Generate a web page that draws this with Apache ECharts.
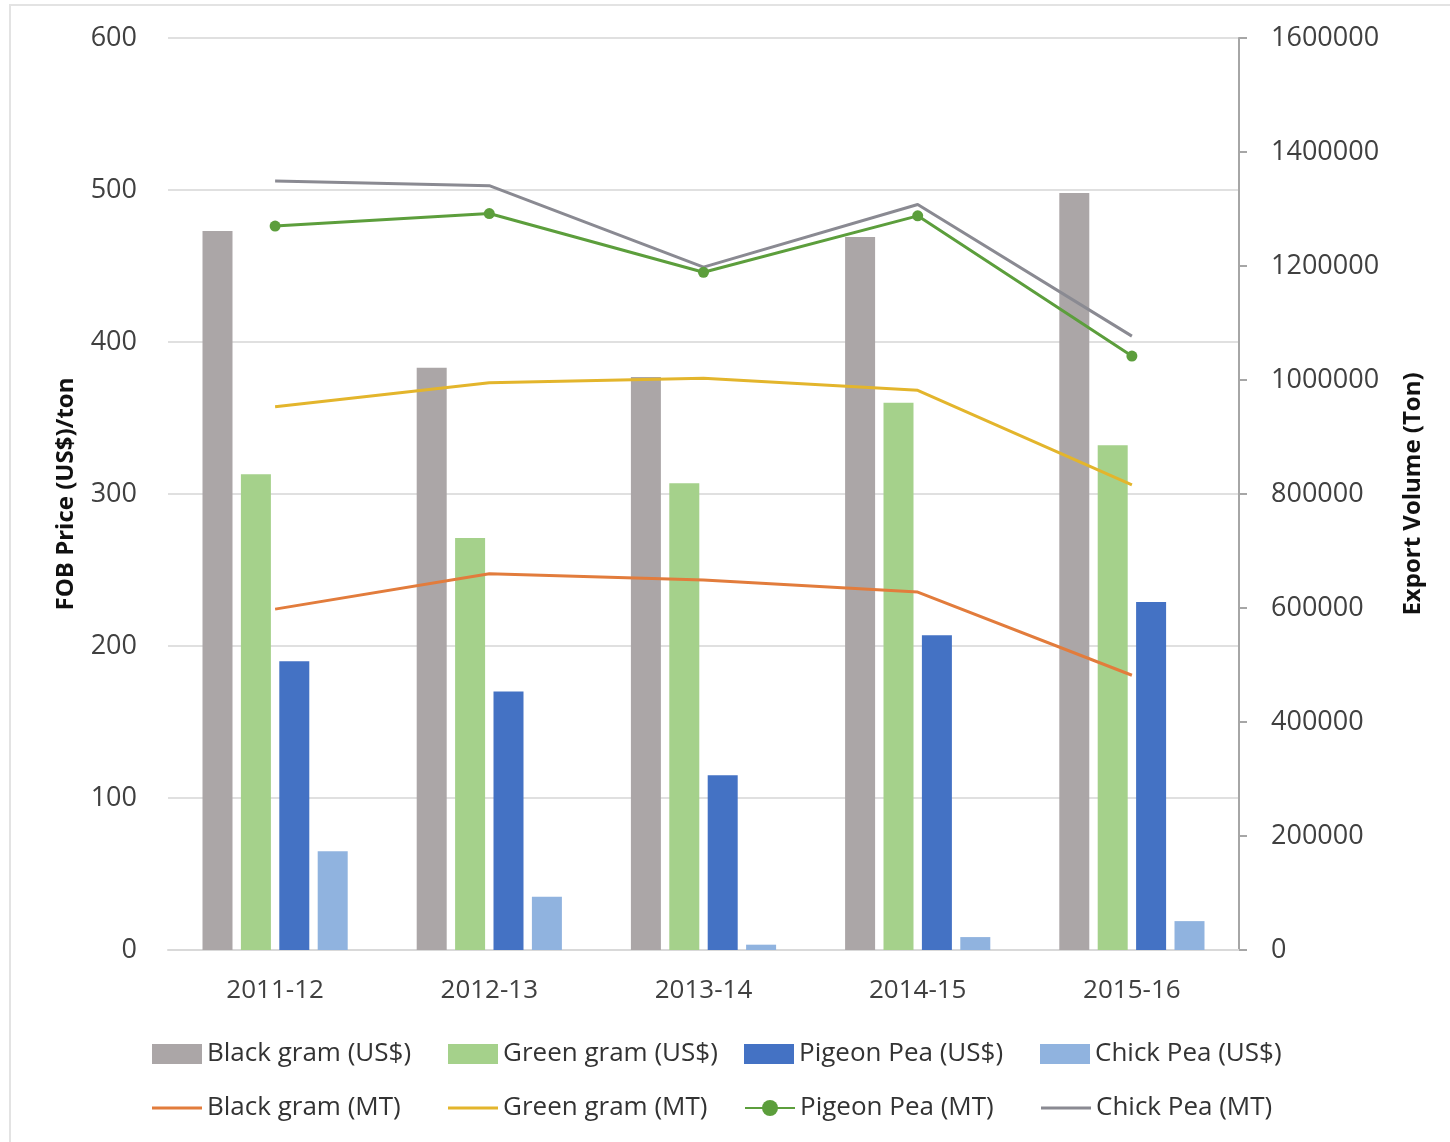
<!DOCTYPE html>
<html>
<head>
<meta charset="utf-8">
<script src="https://cdn.jsdelivr.net/npm/echarts@6/dist/echarts.min.js"></script>
<style>
html,body{margin:0;padding:0;background:#fff;}
#chart{width:1450px;height:1142px;}
</style>
</head>
<body>
<div id="chart"></div>
<script>
// ---- data ----
const categories = ['2011-12', '2012-13', '2013-14', '2014-15', '2015-16'];
const blackGramUSD = [473, 383, 377, 469, 498];
const greenGramUSD = [313, 271, 307, 360, 332];
const pigeonPeaUSD = [190, 170, 115, 207, 229];
const chickPeaUSD = [65, 35, 3.5, 8.5, 19];
const blackGramMT = [598000, 660000, 649000, 628000, 482000];
const greenGramMT = [953000, 995000, 1003000, 982000, 816000];
const pigeonPeaMT = [1270000, 1292000, 1189000, 1288000, 1042000];
const chickPeaMT = [1349000, 1341000, 1198000, 1308000, 1077000];
const leftTitle = 'FOB Price (US$)/ton';
const rightTitle = 'Export Volume (Ton)';

const FONT = '"Open Sans", "Liberation Sans", sans-serif';
const LINE_ICON = 'path://M0,0 L50,0 L50,3 L0,3 Z';
const chart = echarts.init(document.getElementById('chart'));

const barSeries = (name, data, color) => ({
  name, type: 'bar', yAxisIndex: 0, data,
  barWidth: 30, barGap: '28%',
  itemStyle: { color }
});
const lineSeries = (name, data, color, marker) => ({
  name, type: 'line', yAxisIndex: 1, data, z: 5,
  symbol: marker ? 'circle' : 'none',
  symbolSize: 11,
  showSymbol: !!marker,
  lineStyle: { color, width: 3 },
  itemStyle: { color }
});

const legendText = { fontFamily: FONT, fontSize: 26, color: '#333', width: 241, lineHeight: 28 };

chart.setOption({
  animation: false,
  backgroundColor: '#fff',
  graphic: [{
    type: 'rect', shape: { x: 10, y: 5, width: 1460, height: 1160 },
    style: { fill: 'none', stroke: '#e3e3e3', lineWidth: 2 }, silent: true, z: -1
  }],
  grid: { left: 168, right: 211, top: 38, bottom: 192 },
  legend: [{
    left: 152, top: 1040, padding: 0, itemWidth: 50, itemHeight: 20, itemGap: 0,
    symbolKeepAspect: true,
    textStyle: legendText,
    data: [
      { name: 'Black gram (US$)', icon: 'rect' },
      { name: 'Green gram (US$)', icon: 'rect' },
      { name: 'Pigeon Pea (US$)', icon: 'rect' },
      { name: 'Chick Pea (US$)', icon: 'rect' }
    ]
  }, {
    left: 152, top: 1094, padding: 0, itemWidth: 50, itemHeight: 20, itemGap: 0,
    symbolKeepAspect: true,
    textStyle: legendText,
    data: [
      { name: 'Black gram (MT)', icon: LINE_ICON },
      { name: 'Green gram (MT)', icon: LINE_ICON },
      { name: 'Pigeon Pea (MT)' },
      { name: 'Chick Pea (MT)', icon: LINE_ICON }
    ]
  }],
  xAxis: {
    type: 'category', data: categories, boundaryGap: true,
    axisLine: { lineStyle: { color: '#d9d9d9', width: 2 } },
    axisTick: { show: false },
    axisLabel: { fontFamily: FONT, fontSize: 26, color: '#404040', margin: 28 }
  },
  yAxis: [{
    type: 'value', min: 0, max: 600, interval: 100,
    name: leftTitle, nameLocation: 'middle', nameRotate: 90, nameGap: 90,
    nameTextStyle: { fontFamily: FONT, fontSize: 24, fontWeight: 'bold', color: '#111' },
    axisLine: { show: false }, axisTick: { show: false },
    axisLabel: { fontFamily: FONT, fontSize: 27, color: '#404040', margin: 31 },
    splitLine: { lineStyle: { color: '#e0e0e0', width: 2 } }
  }, {
    type: 'value', min: 0, max: 1600000, interval: 200000, position: 'right',
    name: rightTitle, nameLocation: 'middle', nameRotate: 90, nameGap: 162,
    nameTextStyle: { fontFamily: FONT, fontSize: 24, fontWeight: 'bold', color: '#111' },
    axisLine: { show: true, lineStyle: { color: '#a6a6a6', width: 2 } },
    axisTick: { show: true, length: 8, lineStyle: { color: '#a6a6a6', width: 2 } },
    axisLabel: { fontFamily: FONT, fontSize: 27, color: '#404040', margin: 32,
      formatter: v => String(v) },
    splitLine: { show: false }
  }],
  series: [
    barSeries('Black gram (US$)', blackGramUSD, '#aba6a7'),
    barSeries('Green gram (US$)', greenGramUSD, '#a5d18b'),
    barSeries('Pigeon Pea (US$)', pigeonPeaUSD, '#4472c4'),
    barSeries('Chick Pea (US$)', chickPeaUSD, '#90b3df'),
    lineSeries('Black gram (MT)', blackGramMT, '#e27c3c', false),
    lineSeries('Green gram (MT)', greenGramMT, '#e3b52c', false),
    lineSeries('Pigeon Pea (MT)', pigeonPeaMT, '#5c9e3c', true),
    lineSeries('Chick Pea (MT)', chickPeaMT, '#8a8a92', false)
  ]
});
</script>
</body>
</html>
